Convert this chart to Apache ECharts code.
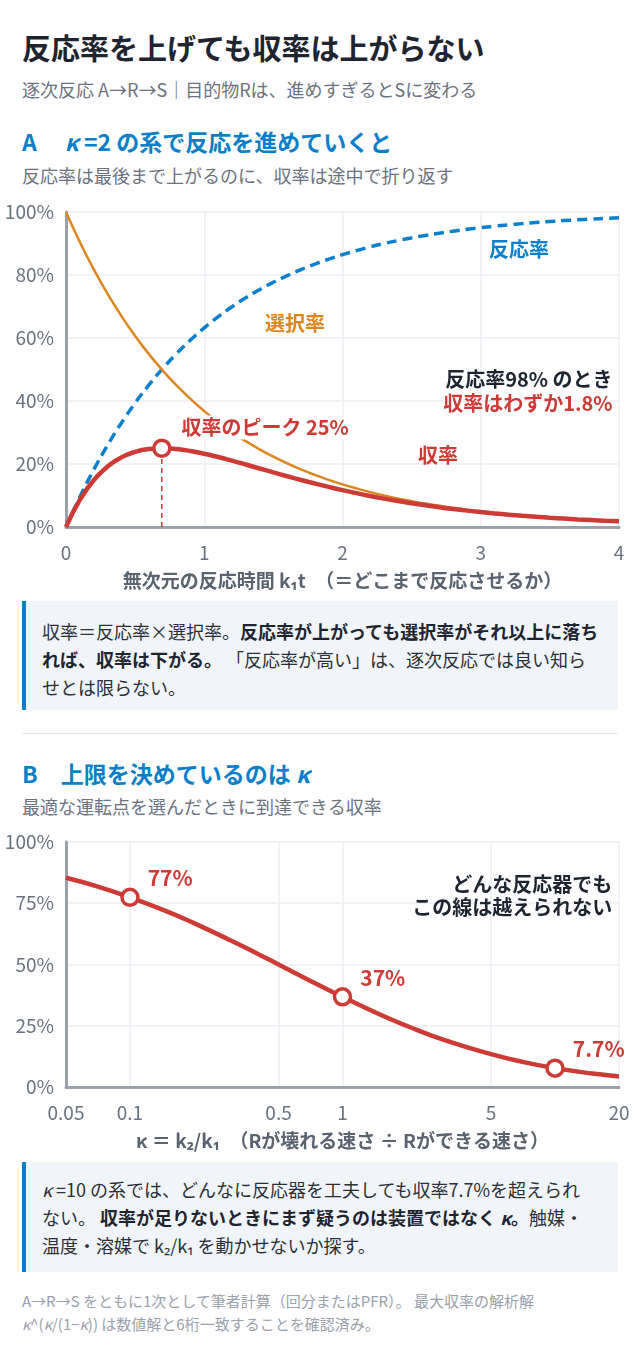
<!DOCTYPE html>
<html lang="ja">
<head>
<meta charset="utf-8">
<title>反応率を上げても収率は上がらない</title>
<script src="https://cdn.jsdelivr.net/npm/echarts@6/dist/echarts.min.js"></script>
<style>
  html, body { margin: 0; padding: 0; background: #fff; }
  body {
    width: 640px; height: 1345px; position: relative; overflow: hidden;
    font-family: "Noto Sans CJK JP", "Noto Sans", sans-serif; color: #1f2630;
  }
  .abs { position: absolute; left: 22px; white-space: nowrap; }
  .title { top: 30px; font-size: 29px; line-height: 34px; font-weight: 700; color: #1e2530; }
  .sub { font-size: 18px; line-height: 22px; color: #6b7280; }
  .head { font-size: 23px; line-height: 26px; font-weight: 700; color: #0a7fc8; }
  .gap { display: inline-block; width: 28px; }
  .desc { font-size: 18px; line-height: 22px; color: #6b7280; }
  .chart { position: absolute; left: 0; width: 640px; }
  .box {
    position: absolute; left: 22px; width: 596px; box-sizing: border-box; background: #f1f5fa;
    border-left: 4px solid #0a7fc8; padding-left: 16px; font-size: 18px;
    line-height: 28px; color: #2b3038; white-space: nowrap;
  }
  .box b { color: #1e2530; }
  .rule { position: absolute; left: 22px; width: 596px; top: 733px; height: 1px; background: #e3e6ea; }
  .foot { top: 1289px; font-size: 15px; line-height: 23px; color: #9aa1ab; }
</style>
</head>
<body>
<div class="abs title">反応率を上げても収率は上がらない</div>
<div class="abs sub" style="top:78px">逐次反応 A→R→S｜目的物Rは、進めすぎるとSに変わる</div>
<div class="abs head" style="top:128px">A<span class="gap"></span><i>κ</i> =2 の系で反応を進めていくと</div>
<div class="abs desc" style="top:164px">反応率は最後まで上がるのに、収率は途中で折り返す</div>
<div id="chartA" class="chart" style="top:195px;height:400px"></div>
<div class="box" style="top:601px;height:109px;padding-top:16px">
収率＝反応率×選択率。<b>反応率が上がっても選択率がそれ以上に落ち</b><br>
<b>れば、収率は下がる。</b> 「反応率が高い」は、逐次反応では良い知ら<br>
せとは限らない。
</div>
<div class="rule"></div>
<div class="abs head" style="top:760px">B<span class="gap" style="width:23px"></span>上限を決めているのは <i>κ</i></div>
<div class="abs desc" style="top:795px">最適な運転点を選んだときに到達できる収率</div>
<div id="chartB" class="chart" style="top:825px;height:330px"></div>
<div class="box" style="top:1162px;height:110px;padding-top:13px">
<i>κ</i> =10 の系では、どんなに反応器を工夫しても収率7.7%を超えられ<br>
ない。 <b>収率が足りないときにまず疑うのは装置ではなく <i>κ</i>。</b>触媒・<br>
温度・溶媒で k₂/k₁ を動かせないか探す。
</div>
<div class="abs foot">A→R→S をともに1次として筆者計算（回分またはPFR）。 最大収率の解析解<br><i>κ</i>^(<i>κ</i>/(1−<i>κ</i>)) は数値解と6桁一致することを確認済み。</div>

<script>
// A: κ=2, dimensionless time k1t
const tauValues = [0, 0.1, 0.2, 0.3, 0.4, 0.5, 0.6, 0.7, 0.8, 0.9, 1.0,
  1.1, 1.2, 1.3, 1.4, 1.5, 1.6, 1.7, 1.8, 1.9, 2.0,
  2.1, 2.2, 2.3, 2.4, 2.5, 2.6, 2.7, 2.8, 2.9, 3.0,
  3.1, 3.2, 3.3, 3.4, 3.5, 3.6, 3.7, 3.8, 3.9, 4.0];
const conversion = [0, 9.52, 18.13, 25.92, 32.97, 39.35, 45.12, 50.34, 55.07, 59.34, 63.21,
  66.71, 69.88, 72.75, 75.34, 77.69, 79.81, 81.73, 83.47, 85.04, 86.47,
  87.75, 88.92, 89.97, 90.93, 91.79, 92.57, 93.28, 93.92, 94.50, 95.02,
  95.50, 95.92, 96.31, 96.66, 96.98, 97.27, 97.53, 97.76, 97.98, 98.17];
const selectivity = [100, 90.48, 81.87, 74.08, 67.03, 60.65, 54.88, 49.66, 44.93, 40.66, 36.79,
  33.29, 30.12, 27.25, 24.66, 22.31, 20.19, 18.27, 16.53, 14.96, 13.53,
  12.25, 11.08, 10.03, 9.07, 8.21, 7.43, 6.72, 6.08, 5.50, 4.98,
  4.50, 4.08, 3.69, 3.34, 3.02, 2.73, 2.47, 2.24, 2.02, 1.83];
const yieldR = [0, 8.61, 14.84, 19.20, 22.10, 23.87, 24.76, 25.00, 24.74, 24.13, 23.25,
  22.21, 21.05, 19.83, 18.58, 17.33, 16.11, 14.93, 13.80, 12.72, 11.70,
  10.75, 9.85, 9.02, 8.25, 7.54, 6.88, 6.27, 5.71, 5.20, 4.73,
  4.30, 3.91, 3.55, 3.23, 2.93, 2.66, 2.41, 2.19, 1.98, 1.80];
const peakTau = 0.693;
const peakYield = 25;

// B: maximum attainable yield vs κ = k2/k1
const kappaValues = [0.05, 0.07, 0.1, 0.15, 0.2, 0.3, 0.4, 0.5, 0.7, 1, 1.5, 2, 3, 5, 7, 10, 15, 20];
const maxYield = [85.4, 81.9, 77.4, 71.6, 66.9, 59.7, 54.3, 50.0, 43.5, 36.8, 29.6, 25.0, 19.2, 13.4, 10.3, 7.7, 5.5, 4.3];
const markKappa = [0.1, 1, 10];
const markYield = [77.4, 36.8, 7.7];
const markText = ['77%', '37%', '7.7%'];
const ticksB_x = [0.05, 0.1, 0.5, 1, 5, 20];

const FONT = '"Noto Sans CJK JP", "Noto Sans", sans-serif';
const RED = '#cc3b35', ORANGE = '#dc8620', BLUE = '#0a80cc', AXIS = '#9aa1ab', GRID = '#eceef2';

function zip(xs, ys) { return xs.map((x, i) => [x, ys[i]]); }

function note(x, y, text, color, pos, extra) {
  return {
    value: [x, y],
    label: Object.assign({
      show: true, formatter: text, position: pos || 'inside', distance: 0,
      color: color, opacity: 1, fontSize: 20, fontWeight: 700, fontFamily: FONT
    }, extra || {})
  };
}

const baseAxisLabel = { color: '#6b7280', fontSize: 19, fontFamily: FONT, margin: 12 };
const axisName = { color: '#5b6270', fontSize: 19, fontWeight: 700, fontFamily: FONT };
const ringStyle = { color: '#fff', borderColor: RED, borderWidth: 3.5, opacity: 1 };

const chartA = echarts.init(document.getElementById('chartA'), null, { renderer: 'canvas' });
chartA.setOption({
  animation: false,
  grid: { left: 66, right: 21, top: 17, bottom: 60 },
  xAxis: {
    type: 'value', min: 0, max: 4, interval: 1,
    axisLine: { lineStyle: { color: AXIS, width: 3 } },
    axisTick: { show: false },
    axisLabel: Object.assign({}, baseAxisLabel, { margin: 16 }),
    splitLine: { show: true, lineStyle: { color: GRID, width: 1.5 } },
    name: '無次元の反応時間 k₁t　（＝どこまで反応させるか）',
    nameLocation: 'middle', nameGap: 44, nameTextStyle: axisName
  },
  yAxis: {
    type: 'value', min: 0, max: 100, interval: 20,
    axisLine: { show: true, lineStyle: { color: AXIS, width: 3 } },
    axisTick: { show: false },
    axisLabel: Object.assign({}, baseAxisLabel, { formatter: '{value}%' }),
    splitLine: { show: true, lineStyle: { color: GRID, width: 1.5 } }
  },
  series: [
    {
      name: '反応率', type: 'line', data: zip(tauValues, conversion), smooth: true,
      symbol: 'none', z: 2,
      lineStyle: { color: BLUE, width: 3.5, type: [10, 6] }
    },
    {
      name: '選択率', type: 'line', data: zip(tauValues, selectivity), smooth: true,
      symbol: 'none', z: 3,
      lineStyle: { color: ORANGE, width: 2.5 }
    },
    {
      name: 'peak-drop', type: 'line', data: [[peakTau, 0], [peakTau, peakYield]],
      symbol: 'none', z: 4,
      lineStyle: { color: RED, width: 1.5, type: [5, 4] }
    },
    {
      name: 'notes', type: 'scatter', symbolSize: 1, silent: true, z: 5,
      itemStyle: { color: 'rgba(0,0,0,0)', opacity: 1 },
      data: [
        note(3.277, 88.2, '反応率', BLUE),
        note(1.657, 64.7, '選択率', ORANGE),
        note(3.957, 46.7, '反応率98% のとき', '#1e2530', 'left'),
        note(3.957, 39.3, '収率はわずか1.8%', RED, 'left'),
        note(1.44, 31.6, '収率のピーク 25%', RED, 'inside',
          { backgroundColor: '#fff', padding: [2, 4] }),
        note(2.69, 22.6, '収率', RED)
      ]
    },
    {
      name: '収率', type: 'line', data: zip(tauValues, yieldR), smooth: true,
      symbol: 'none', z: 6,
      lineStyle: { color: RED, width: 4.5 }
    },
    {
      name: 'peak', type: 'scatter', data: [[peakTau, peakYield]], z: 7,
      symbol: 'circle', symbolSize: 16, itemStyle: ringStyle
    }
  ]
});

const chartB = echarts.init(document.getElementById('chartB'), null, { renderer: 'canvas' });
chartB.setOption({
  animation: false,
  grid: { left: 66, right: 21, top: 17, bottom: 60 },
  xAxis: {
    type: 'log', logBase: 10, min: 0.05, max: 20,
    axisLine: { lineStyle: { color: AXIS, width: 3 } },
    axisTick: { show: false, customValues: ticksB_x },
    axisLabel: Object.assign({}, baseAxisLabel, { margin: 16, customValues: ticksB_x }),
    splitLine: { show: true, lineStyle: { color: GRID, width: 1.5 } },
    name: 'κ ＝ k₂/k₁　（Rが壊れる速さ ÷ Rができる速さ）',
    nameLocation: 'middle', nameGap: 44, nameTextStyle: axisName
  },
  yAxis: {
    type: 'value', min: 0, max: 100, interval: 25,
    axisLine: { show: true, lineStyle: { color: AXIS, width: 3 } },
    axisTick: { show: false },
    axisLabel: Object.assign({}, baseAxisLabel, { formatter: '{value}%' }),
    splitLine: { show: true, lineStyle: { color: GRID, width: 1.5 } }
  },
  series: [
    {
      name: '最大収率', type: 'line', data: zip(kappaValues, maxYield), smooth: true,
      symbol: 'none', z: 3,
      lineStyle: { color: RED, width: 4.5 }
    },
    {
      name: 'marks', type: 'scatter', z: 4,
      data: markKappa.map((k, i) => ({
        value: [k, markYield[i]],
        label: { show: true, formatter: markText[i] }
      })),
      symbol: 'circle', symbolSize: 16, itemStyle: ringStyle,
      label: {
        position: 'right', distance: 5, offset: [3, -19], opacity: 1,
        color: RED, fontSize: 21, fontWeight: 700, fontFamily: FONT
      }
    },
    {
      name: 'notes', type: 'scatter', symbolSize: 1, silent: true, z: 5,
      itemStyle: { color: 'rgba(0,0,0,0)', opacity: 1 },
      data: [
        note(18.7, 82.6, 'どんな反応器でも', '#1e2530', 'left'),
        note(18.7, 73.1, 'この線は越えられない', '#1e2530', 'left')
      ]
    }
  ]
});
</script>
</body>
</html>
